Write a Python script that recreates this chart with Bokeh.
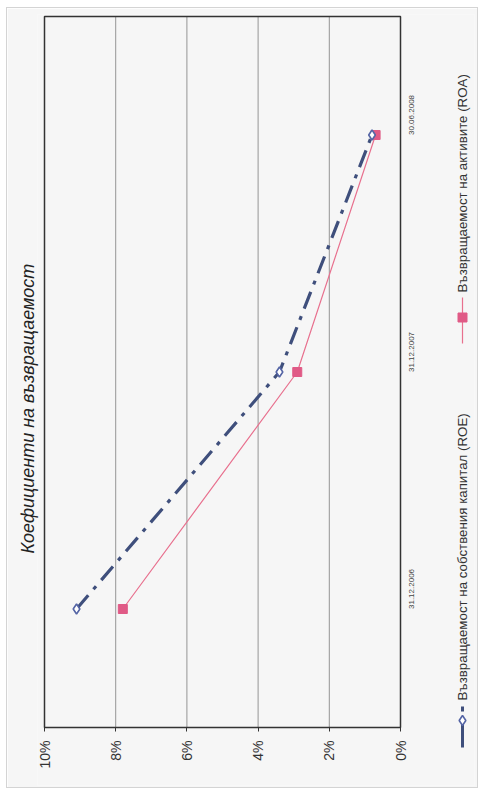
import math
from bokeh.plotting import figure
from bokeh.models import Range1d, FixedTicker, NumeralTickFormatter, ColumnDataSource
from bokeh.core.properties import value
from bokeh.embed import file_html
from bokeh.resources import INLINE

# ---- data ----
categories = ["31.12.2006", "31.12.2007", "30.06.2008"]
roe = [0.091, 0.034, 0.008]
roa = [0.078, 0.029, 0.007]
tick_values = [0.0, 0.02, 0.04, 0.06, 0.08, 0.10]
title_text = "Коефициенти на възвращаемост"
roe_name = "Възвращаемост на собствения капитал (ROE)"
roa_name = "Възвращаемост на активите (ROA)"

FONT = "Liberation Sans"
BG = "#f6f6f6"
ROE_COLOR = "#3f4f7c"
ROE_MARK = "#5565a5"
ROA_COLOR = "#e8708e"
ROA_MARK = "#e05a86"

# ---- layout (page pixels) ----
ORIGIN_X, ORIGIN_Y = 7, 8            # figure's top-left on the page
W, H = 472, 781
BOX_L, BOX_T, BOX_W, BOX_H = 44, 16, 356, 711     # the chart's plot box
FRAME_L, FRAME_T, FRAME_R, FRAME_B = 37, 14, 474, 785

n = len(categories)
x_min, x_max = tick_values[0], tick_values[-1]
xpp = (x_max - x_min) / BOX_W        # value per pixel
ypp = n / BOX_H
BOX_R, BOX_B = BOX_L + BOX_W, BOX_T + BOX_H
x_range = Range1d(x_max + (BOX_L - FRAME_L) * xpp, x_min - (FRAME_R - BOX_R) * xpp)
y_range = Range1d(-(FRAME_B - BOX_B) * ypp, n + (BOX_T - FRAME_T) * ypp)

def px_x(page_x):
    return x_min - (page_x - BOX_R) * xpp

def px_y(page_y):
    return (BOX_B - page_y) * ypp

p = figure(width=W, height=H, x_range=x_range, y_range=y_range,
           y_axis_location="right", title=title_text, title_location="left",
           output_backend="svg", toolbar_location=None,
           min_border_left=FRAME_L - ORIGIN_X, min_border_top=FRAME_T - ORIGIN_Y,
           min_border_right=ORIGIN_X + W - FRAME_R,
           min_border_bottom=ORIGIN_Y + H - FRAME_B,
           background_fill_color=BG, border_fill_color=BG,
           styles={"border": "1px solid #d4d4d4", "margin": "7px 0 0 6px"})
p.outline_line_color = None
p.grid.visible = False

p.title.align = "left"
p.title.offset = FRAME_B - 553
p.title.standoff = 0
p.title.text_font = FONT
p.title.text_font_size = "18px"
p.title.text_font_style = "italic"
p.title.text_color = "#222222"

# value axis along the bottom of the box
xa = p.xaxis[0]
xa.fixed_location = 0
xa.ticker = FixedTicker(ticks=tick_values)
xa.formatter = NumeralTickFormatter(format="0%")
xa.major_label_orientation = math.pi / 2
xa.major_label_text_font = FONT
xa.major_label_text_font_size = "14px"
xa.major_label_text_color = "#333333"
xa.axis_line_color = None
xa.major_tick_out = 4
xa.major_tick_in = 0
xa.major_tick_line_color = "#333333"
xa.minor_tick_line_color = None
xa.major_label_standoff = 9

# category axis along the right of the box
cat_pos = [i + 0.5 for i in range(n)]
ya = p.yaxis[0]
ya.fixed_location = 0
ya.ticker = FixedTicker(ticks=cat_pos)
ya.major_label_overrides = {pos: c for pos, c in zip(cat_pos, categories)}
ya.major_label_orientation = math.pi / 2
ya.major_label_text_font = FONT
ya.major_label_text_font_size = "8px"
ya.major_label_text_color = "#444444"
ya.axis_line_color = None
ya.major_tick_line_color = None
ya.minor_tick_line_color = None
ya.major_tick_out = 0
ya.major_label_standoff = 11

# gridlines and plot box
inner = tick_values[1:-1]
p.segment(x0=inner, y0=[0] * len(inner), x1=inner, y1=[n] * len(inner),
          line_color="#959595", line_width=1)
p.quad(left=[x_max], right=[x_min], bottom=[0], top=[n], fill_color=None,
       line_color="#333333", line_width=1.5)

# series
src = ColumnDataSource(data=dict(pos=cat_pos, roe=roe, roa=roa))
p.line("roe", "pos", source=src, line_color=ROE_COLOR, line_width=3.2,
       line_dash="18 8 4 8")
p.line("roa", "pos", source=src, line_color=ROA_COLOR, line_width=1.2)
p.scatter("roa", "pos", source=src, marker="square", size=9,
          fill_color=ROA_MARK, line_color=ROA_MARK)
p.scatter("roe", "pos", source=src, marker="diamond", size=10,
          fill_color="white", line_color=ROE_MARK, line_width=1.6)

# ---- legend (rotated, in the right margin) ----
lx = px_x(462)
# ROE
p.segment(x0=[lx, lx], y0=[px_y(747), px_y(711)], x1=[lx, lx], y1=[px_y(723), px_y(706)],
          line_color=ROE_COLOR, line_width=3)
p.scatter(x=[lx], y=[px_y(720)], marker="diamond", size=10, fill_color="white",
          line_color=ROE_MARK, line_width=1.6)
p.text(x=[lx], y=[px_y(700)], text=[roe_name], angle=math.pi / 2,
       text_font=value(FONT), text_font_size="13.3px", text_color="#333333",
       text_align="left", text_baseline="middle")
# ROA
p.segment(x0=[lx], y0=[px_y(343)], x1=[lx], y1=[px_y(297)],
          line_color=ROA_COLOR, line_width=1.2)
p.scatter(x=[lx], y=[px_y(317)], marker="square", size=9, fill_color=ROA_MARK,
          line_color=ROA_MARK)
p.text(x=[lx], y=[px_y(292)], text=[roa_name], angle=math.pi / 2,
       text_font=value(FONT), text_font_size="13.3px", text_color="#333333",
       text_align="left", text_baseline="middle")

open("out.html", "w").write(file_html(p, INLINE))
